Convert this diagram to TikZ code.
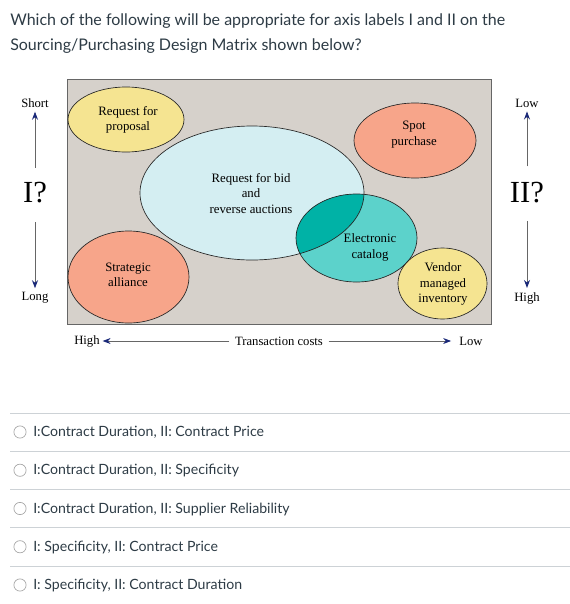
\documentclass[tikz,border=0pt]{standalone}
\usepackage{fontspec}
\setmainfont{Liberation Serif}
\newfontfamily\latofont{Lato}
\usepackage{xcolor}
\usetikzlibrary{arrows.meta, shapes.geometric}
\definecolor{boxgray}{RGB}{214,209,203}
\definecolor{paleyellow}{RGB}{245,228,145}
\definecolor{salmon}{RGB}{247,165,138}
\definecolor{paleblue}{RGB}{212,238,242}
\definecolor{midteal}{RGB}{92,210,203}
\definecolor{darkteal}{RGB}{0,178,166}
\definecolor{tipblue}{RGB}{25,40,120}
\definecolor{canvastext}{RGB}{45,59,69}
\definecolor{ruleline}{RGB}{205,210,214}

\begin{document}
\begin{tikzpicture}[x=0.75pt, y=-0.75pt,
    blob/.style = {ellipse, inner sep=0pt},
    rim/.style = {draw=black!85, line width=0.5pt},
    txt/.style = {align=center, font=\fontsize{9.6}{11.6}\selectfont, inner sep=0pt},
    axlabel/.style = {font=\fontsize{9.5}{11}\selectfont, inner sep=1pt},
    bigq/.style = {font=\fontsize{23}{24}\selectfont, inner sep=0pt},
    axis/.style = {draw=gray!80!black, line width=0.6pt, -{Stealth[length=6pt, width=4.5pt, color=tipblue]}},
    question/.style = {font=\latofont\fontsize{12}{19}\selectfont, text=canvastext, align=left, anchor=north west, inner sep=0pt},
    option/.style = {font=\latofont\fontsize{10.6}{12}\selectfont, text=canvastext, anchor=west, inner sep=0pt},
    radio/.style = {circle, draw=gray!70, line width=0.5pt, minimum size=9.2pt, inner sep=0pt}]
\useasboundingbox (0,0) rectangle (570,604);

\node (q) [question] at (10,13) {Which of the following will be appropriate for axis labels I and II on the\\Sourcing/Purchasing Design Matrix shown below?};

\node (box) [draw=gray!80!black, fill=boxgray, line width=0.6pt, minimum width=318pt, minimum height=183.75pt, inner sep=0pt] at (279,201.5) {};

\node (rfp) [blob, fill=paleyellow, minimum width=87pt, minimum height=48.75pt] at (126,119.5) {};
\node (bid) [blob, fill=paleblue, minimum width=168pt, minimum height=100.5pt] at (252,193) {};
\node (sa) [blob, fill=salmon, minimum width=90.75pt, minimum height=69pt] at (128.5,277) {};
\node (spot) [blob, fill=salmon, minimum width=91.5pt, minimum height=56.25pt] at (415,140.5) {};
\node (cat) [blob, fill=midteal, minimum width=90.75pt, minimum height=66pt] at (356.5,238) {};
\node (vmi) [blob, fill=paleyellow, minimum width=66.75pt, minimum height=53.25pt] at (442.5,283.5) {};

\begin{scope}
  \clip (bid.center) ellipse [x radius=84pt, y radius=50.25pt];
  \fill[darkteal] (cat.center) ellipse [x radius=45.375pt, y radius=33pt];
\end{scope}

\draw[rim] (rfp.center) ellipse [x radius=43.5pt, y radius=24.375pt];
\draw[rim] (bid.center) ellipse [x radius=84pt, y radius=50.25pt];
\draw[rim] (sa.center) ellipse [x radius=45.375pt, y radius=34.5pt];
\draw[rim] (spot.center) ellipse [x radius=45.75pt, y radius=28.125pt];
\draw[rim] (cat.center) ellipse [x radius=45.375pt, y radius=33pt];
\draw[rim] (vmi.center) ellipse [x radius=33.375pt, y radius=26.625pt];

\node (rfptxt) [txt] at (128,120) {Request for\\proposal};
\node (bidtxt) [txt] at (251,193.5) {Request for bid\\and\\reverse auctions};
\node (satxt) [txt] at (128,275) {Strategic\\alliance};
\node (spottxt) [txt] at (414,134.5) {Spot\\purchase};
\node (cattxt) [txt] at (370,247.5) {Electronic\\catalog};
\node (vmitxt) [txt] at (443,284) {Vendor\\managed\\inventory};

\node (short) [axlabel] at (35,103) {Short};
\node (one) [bigq] at (35,193) {I?};
\node (long) [axlabel] at (35,298) {Long};
\node (low) [axlabel] at (527,103) {Low};
\node (two) [bigq] at (527,193) {II?};
\node (high) [axlabel] at (527,298) {High};

\node (tchigh) [axlabel] at (87,341) {High};
\node (tc) [axlabel] at (279,341) {Transaction costs};
\node (tclow) [axlabel] at (471,341) {Low};

\path
    (one.north) edge [axis, shorten <=11pt, shorten >=2pt] (short.south)
    (one.south) edge [axis, shorten <=14pt, shorten >=2pt] (long.north)
    (two.north) edge [axis, shorten <=12pt, shorten >=2pt] (low.south)
    (two.south) edge [axis, shorten <=13pt, shorten >=2pt] (high.north)
    (tc.west) edge [axis, shorten <=3pt, shorten >=1pt] (tchigh.east)
    (tc.east) edge [axis, shorten <=3pt, shorten >=5pt] (tclow.west);

\foreach \i/\t in {1/{I:Contract Duration, II: Contract Price},
                   2/{I:Contract Duration, II: Specificity},
                   3/{I:Contract Duration, II: Supplier Reliability},
                   4/{I: Specificity, II: Contract Price},
                   5/{I: Specificity, II: Contract Duration}} {
  \coordinate (l\i) at (10,374.75+38.25*\i);
  \coordinate (r\i) at (570,374.75+38.25*\i);
  \draw[ruleline, line width=0.6pt] (l\i) -- (r\i);
  \node (rb\i) [radio] at (20,393.75+38.25*\i) {};
  \node (opt\i) [option] at (33,394.5+38.25*\i) {\t};
}
\end{tikzpicture}
\end{document}
